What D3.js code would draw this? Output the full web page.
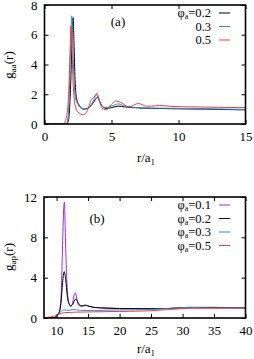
<!DOCTYPE html>
<html><head><meta charset="utf-8">
<script src="https://cdn.jsdelivr.net/npm/d3@7"></script>
<style>
html,body{margin:0;padding:0;background:#fff;}
svg{display:block;}
</style></head>
<body>
<script>
// ---- Panel (a): g_aa(r) ----
const aTicksX = [0, 5, 10, 15];
const aTicksY = [0, 2, 4, 6, 8];
const aLabels = ["0.2", "0.3", "0.5"];
const aColors = ["#000000", "#2a8fd8", "#f03c3c"];
const aR02 = [0,1.65,1.8,1.9,2.0,2.08,2.14,2.2,2.28,2.4,2.6,2.9,3.2,3.5,3.8,3.95,4.1,4.3,4.6,5.0,5.5,6.0,7.0,8.0,10,12,15];
const aG02 = [0,0,0.3,1.5,4.0,6.5,7.15,5.5,3.0,1.7,1.25,1.0,1.05,1.25,1.65,1.8,1.55,1.2,1.05,1.1,1.2,1.15,1.08,1.05,1.02,1.0,0.95];
const aR03 = [0,1.6,1.75,1.85,1.95,2.03,2.1,2.18,2.3,2.5,2.8,3.1,3.4,3.7,3.85,4.0,4.2,4.5,5.0,5.5,6.0,7,8,10,12,15];
const aG03 = [0,0,0.4,2.0,5.5,7.27,6.0,3.5,1.8,1.3,1.05,1.0,1.2,1.65,1.95,1.8,1.3,1.1,1.2,1.35,1.2,1.1,1.07,1.05,1.02,0.98];
const aR05 = [0,1.4,1.55,1.7,1.8,1.9,1.98,2.05,2.15,2.3,2.5,2.9,3.2,3.5,3.7,3.9,4.1,4.3,4.6,5.0,5.3,5.7,6.3,7.0,7.6,8.0,8.6,9.5,11,13,15];
const aG05 = [0,0,0.2,0.8,2.0,4.5,6.6,5.0,2.5,1.2,0.8,0.62,0.9,1.65,1.8,2.05,1.6,1.05,0.95,1.3,1.55,1.45,1.15,1.38,1.2,1.2,1.25,1.18,1.15,1.12,1.1];

// ---- Panel (b): g_ap(r) ----
const bTicksX = [10, 15, 20, 25, 30, 35, 40];
const bTicksY = [0, 4, 8, 12];
const bLabels = ["0.1", "0.2", "0.3", "0.5"];
const bColors = ["#9b30d9", "#000000", "#2a8fd8", "#f03c3c"];
const bR01 = [8,9.5,10.0,10.4,10.7,10.9,11.1,11.25,11.4,11.6,11.9,12.2,12.5,12.8,13.0,13.2,13.5,14.0,14.5,15,16,18,20,25,28,31,35,40];
const bG01 = [0,0,0.2,0.6,2.0,6.0,10.5,11.5,8.0,4.0,1.6,1.15,1.4,2.3,2.5,1.9,1.25,1.15,1.3,1.2,1.05,1.0,0.95,0.92,0.95,1.05,1.05,1.0];
const bR02 = [8,9.5,10,10.4,10.7,10.95,11.2,11.45,11.7,12.0,12.3,12.6,12.9,13.1,13.4,13.8,14.2,14.7,15.2,16,18,20,25,28,31,35,40];
const bG02 = [0,0,0.2,0.5,1.5,3.5,4.6,3.8,2.2,1.4,1.2,1.4,1.8,1.9,1.55,1.25,1.2,1.25,1.15,1.05,0.97,0.93,0.92,0.95,1.05,1.05,1.0];
const bR03 = [8,9.5,10,10.5,10.9,11.3,12,12.6,13.2,14,16,20,25,28,31,35,40];
const bG03 = [0,0,0.15,0.5,0.75,0.8,0.75,0.85,0.8,0.75,0.75,0.8,0.85,0.95,1.05,1.0,1.0];
const bR05 = [8,9,10,10.5,11,12,13,15,20,25,28,31,35,40];
const bG05 = [0,0.1,0.25,0.4,0.5,0.55,0.58,0.6,0.65,0.72,0.85,0.95,0.97,0.98];

const W = 254, H = 359;
const FONT = "Liberation Serif";
const svg = d3.select("body").append("svg").attr("width", W).attr("height", H)
  .attr("font-family", FONT);

function zip(rs, gs){ return rs.map((r,i)=>({r:r, g:gs[i]})); }

function panel(opt){
  const x = d3.scaleLinear().domain(opt.xd).range([opt.left, opt.right]);
  const y = d3.scaleLinear().domain(opt.yd).range([opt.bottom, opt.top]);
  const g = svg.append("g").attr("font-family", FONT);
  const clipId = "clip" + opt.name;
  svg.append("clipPath").attr("id", clipId).append("rect")
    .attr("x", opt.left).attr("y", opt.top)
    .attr("width", opt.right-opt.left).attr("height", opt.bottom-opt.top);
  const line = d3.line().x(d=>x(d.r)).y(d=>y(d.g)).curve(d3.curveMonotoneX);
  opt.series.forEach((s)=>{
    g.append("path").datum(s.data).attr("d", line)
      .attr("fill","none").attr("stroke", s.color).attr("stroke-width",1)
      .attr("clip-path","url(#"+clipId+")");
  });
  const tl = 4;
  const styleText = a => a.selectAll("text").attr("font-size",13).attr("font-family",FONT).attr("fill","#000");
  g.append("g").attr("transform",`translate(0,${opt.bottom})`)
    .call(d3.axisBottom(x).tickValues(opt.tx).tickSize(-tl).tickPadding(8).tickFormat(d3.format("d")))
    .call(a=>{a.attr("font-family",FONT); a.select(".domain").remove(); styleText(a);});
  g.append("g").attr("transform",`translate(0,${opt.top})`)
    .call(d3.axisTop(x).tickValues(opt.tx).tickSize(-tl).tickFormat(""))
    .call(a=>a.select(".domain").remove());
  g.append("g").attr("transform",`translate(${opt.left},0)`)
    .call(d3.axisLeft(y).tickValues(opt.ty).tickSize(-tl).tickPadding(7).tickFormat(d3.format("d")))
    .call(a=>{a.attr("font-family",FONT); a.select(".domain").remove(); styleText(a);});
  g.append("g").attr("transform",`translate(${opt.right},0)`)
    .call(d3.axisRight(y).tickValues(opt.ty).tickSize(-tl).tickFormat(""))
    .call(a=>a.select(".domain").remove());
  g.append("rect").attr("x",opt.left).attr("y",opt.top)
    .attr("width",opt.right-opt.left).attr("height",opt.bottom-opt.top)
    .attr("fill","none").attr("stroke","#000").attr("stroke-width",1.6);
  g.append("text").attr("x",opt.tagX).attr("y",opt.tagY).attr("text-anchor","middle")
    .attr("font-size",13).text(opt.tag);
  opt.series.forEach((s,i)=>{
    const yy = opt.legY + i*opt.legDy;
    const t = g.append("text").attr("x",211).attr("y",yy+4).attr("text-anchor","end").attr("font-size",12.5);
    if (s.full){
      t.append("tspan").text("φ");
      t.append("tspan").attr("font-size",8).attr("dy",2).text("a");
      t.append("tspan").attr("dy",-2).text("=" + s.label);
    } else {
      t.text(s.label);
    }
    g.append("line").attr("x1",219).attr("x2",230).attr("y1",yy).attr("y2",yy)
      .attr("stroke",s.color).attr("stroke-width",1);
  });
  const xt = g.append("text").attr("x",opt.xtX).attr("y",opt.xtY).attr("text-anchor","middle").attr("font-size",13);
  xt.append("tspan").text("r/a");
  xt.append("tspan").attr("font-size",9).attr("dy",2.5).text("1");
  const yt = g.append("text").attr("transform",`translate(${opt.ytX},${opt.ytY}) rotate(-90)`)
    .attr("text-anchor","middle").attr("font-size",13);
  yt.append("tspan").text("g");
  yt.append("tspan").attr("font-size",9).attr("dy",2.5).text(opt.ysub);
  yt.append("tspan").attr("dy",-2.5).text("(r)");
}

panel({
  name:"a", xd:[0,15], yd:[0,8], left:44.5, right:245.5, top:5, bottom:124,
  tx:aTicksX, ty:aTicksY, tag:"(a)", tagX:118, tagY:26,
  legY:13, legDy:13.5, xtX:146, xtY:162, ytX:13, ytY:65, ysub:"aa",
  series:[
    {label:aLabels[0], full:true,  color:aColors[0], data:zip(aR02,aG02)},
    {label:aLabels[1], full:false, color:aColors[1], data:zip(aR03,aG03)},
    {label:aLabels[2], full:false, color:aColors[2], data:zip(aR05,aG05)}
  ]
});

panel({
  name:"b", xd:[8,40], yd:[0,12], left:44, right:245.5, top:197, bottom:318,
  tx:bTicksX, ty:bTicksY, tag:"(b)", tagX:97, tagY:223,
  legY:205, legDy:13.5, xtX:146, xtY:353, ytX:13, ytY:257, ysub:"ap",
  series:[
    {label:bLabels[0], full:true, color:bColors[0], data:zip(bR01,bG01)},
    {label:bLabels[1], full:true, color:bColors[1], data:zip(bR02,bG02)},
    {label:bLabels[2], full:true, color:bColors[2], data:zip(bR03,bG03)},
    {label:bLabels[3], full:true, color:bColors[3], data:zip(bR05,bG05)}
  ]
});
</script>
</body></html>
